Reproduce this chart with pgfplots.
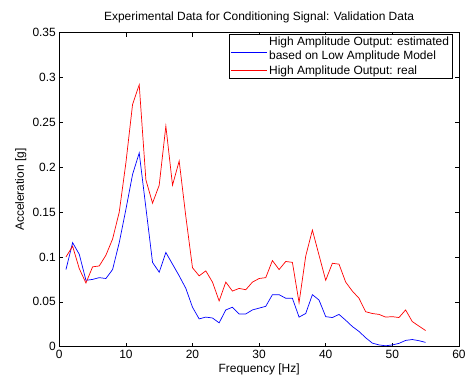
\documentclass[border=0pt]{standalone}
\usepackage{fontspec}
\setmainfont{Liberation Sans}
\usepackage{pgfplots}
\usepackage{pgfplotstable}
\pgfplotsset{compat=1.18}

\pgfplotstableread{
x est real
1 0.086 0.100
2 0.116 0.112
3 0.103 0.087
4 0.074 0.071
5 0.075 0.089
6 0.077 0.090
7 0.076 0.102
8 0.086 0.120
9 0.116 0.150
10 0.153 0.205
11 0.192 0.270
12 0.216 0.292
13 0.155 0.186
14 0.094 0.160
15 0.083 0.180
16 0.105 0.246
17 0.092 0.180
18 0.079 0.207
19 0.065 0.145
20 0.044 0.088
21 0.031 0.079
22 0.033 0.0845
23 0.032 0.072
24 0.0266 0.051
25 0.041 0.072
26 0.044 0.062
27 0.0365 0.065
28 0.0365 0.0635
29 0.041 0.072
30 0.043 0.076
31 0.045 0.077
32 0.058 0.096
33 0.058 0.086
34 0.054 0.095
35 0.054 0.094
36 0.033 0.049
37 0.037 0.101
38 0.058 0.130
39 0.052 0.102
40 0.0335 0.074
41 0.0325 0.093
42 0.036 0.092
43 0.0295 0.072
44 0.0225 0.062
45 0.017 0.054
46 0.010 0.039
47 0.004 0.037
48 0.002 0.036
49 0.001 0.033
50 0.002 0.0335
51 0.0037 0.0325
52 0.007 0.041
53 0.008 0.028
54 0.0067 0.023
55 0.0048 0.018
}\datatable

\begin{document}
\begin{tikzpicture}
\useasboundingbox (-59.3bp,-34.3bp) rectangle (405.7bp,346.7bp);
\begin{axis}[
  at={(0,0)}, anchor=south west,
  scale only axis, width=399.6bp, height=314bp,
  xmin=0, xmax=60, ymin=0, ymax=0.35,
  xtick={0,10,20,30,40,50,60},
  ytick={0,0.05,0.1,0.15,0.2,0.25,0.3,0.35},
  tick align=inside, major tick length=4bp,
  tick style={black, line width=0.5bp},
  axis line style={line width=0.6bp},
  font=\fontsize{12}{14}\selectfont,
  /pgf/number format/assume math mode=true,
  yticklabel style={/pgf/number format/fixed, /pgf/number format/precision=2},
  xticklabel style={/pgf/number format/fixed},
  xlabel={Frequency [Hz]},
  ylabel={Acceleration [g]},
  xlabel style={at={(axis description cs:0.5,-0.071)}, anchor=center},
  ylabel style={at={(axis description cs:-0.0966,0.5)}, anchor=center},
  every axis title shift=0pt,
  title={Experimental Data for Conditioning Signal: Validation Data},
  title style={at={(axis description cs:0.5,1.05)}, anchor=center, yshift=0pt},
  legend style={at={(axis description cs:0.9835,0.9959)}, anchor=north east,
    draw=black, line width=0.6bp, inner xsep=1bp, inner ysep=1bp,
    cells={anchor=west, align=left},
    font=\fontsize{12}{14}\selectfont},
  legend image code/.code={\draw[#1] (0bp,0bp) -- (36bp,0bp);},
]
\addplot[blue, line width=0.7bp, legend image post style={yshift=-3.5bp}]
  table[x=x, y=est] {\datatable};
\addlegendentry{High Amplitude Output: estimated\\based on Low Amplitude Model}
\addplot[red, line width=0.7bp] table[x=x, y=real] {\datatable};
\addlegendentry{High Amplitude Output: real}
\end{axis}
\end{tikzpicture}
\end{document}
